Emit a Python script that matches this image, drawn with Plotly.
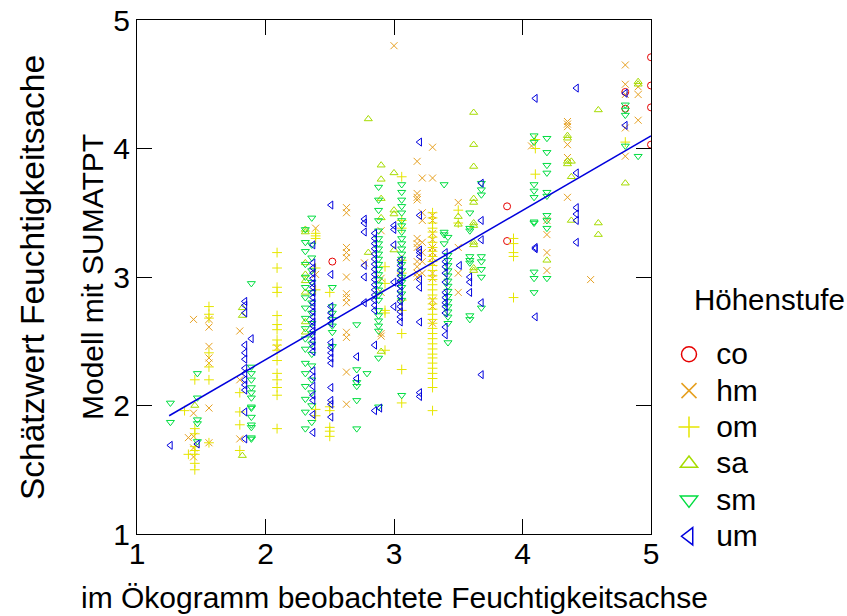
import plotly.graph_objects as go

# ---------------- data (observed x -> list of estimated y) ----------------
co_pts = {2.52: [3.12], 3.88: [3.55, 3.28], 4.80: [4.44, 4.31],
          5.00: [4.71, 4.49, 4.32, 4.03]}

hm_pts = {1.40: [1.75], 1.44: [2.67, 1.94, 1.76, 1.67, 1.60],
          1.56: [2.67, 2.61, 2.46, 2.37, 2.33, 1.98, 1.71],
          1.80: [2.58, 2.20, 1.74], 2.09: [2.45], 2.39: [3.38, 3.02],
          2.63: [3.54, 3.50, 3.23, 3.19, 3.15, 3.00, 2.87, 2.84, 2.80, 2.57, 2.53, 2.26, 2.01],
          2.77: [3.11], 2.90: [3.36, 2.99, 2.88, 2.56, 2.54], 3.00: [4.80],
          3.18: [3.90, 3.65, 3.62, 3.60, 3.30, 3.26, 3.23, 3.12, 3.08, 3.03, 3.00],
          3.22: [3.77, 3.50, 3.44, 3.27, 3.19, 3.12, 3.03],
          3.30: [4.01, 3.77, 3.48, 3.44, 3.34, 3.29, 3.23, 3.19, 3.15, 3.11, 3.03, 2.99, 2.82, 2.77, 2.64],
          3.50: [3.58, 3.23, 3.03, 2.88], 4.07: [4.02],
          4.19: [3.44, 3.33, 3.19, 3.05],
          4.35: [4.21, 4.19, 4.17, 4.03, 3.93, 3.62], 4.53: [2.98],
          4.80: [4.65, 4.50, 4.42, 4.16, 3.94], 4.90: [4.48, 4.42, 4.22]}

om_pts = {1.37: [1.96], 1.40: [1.62],
          1.45: [2.20, 1.82, 1.78, 1.68, 1.65, 1.62, 1.55, 1.50],
          1.56: [2.77, 2.71, 2.68, 2.41, 2.30, 2.20, 1.71],
          1.80: [2.10, 1.95, 1.85, 1.65],
          2.09: [3.19, 3.07, 2.92, 2.88, 2.70, 2.63, 2.59, 2.51, 2.47, 2.43, 2.35, 2.25, 2.20, 2.14, 2.08, 1.82],
          2.39: [3.34, 3.32, 3.30, 3.07, 2.90, 1.97, 1.92],
          2.50: [2.88, 1.99, 1.96, 1.83, 1.80, 1.76],
          2.93: [3.08, 2.95, 2.74, 2.72, 2.43],
          3.06: [3.78, 3.44, 3.38, 3.13, 3.03, 2.82, 2.74, 2.56, 2.28, 2.02],
          3.30: [3.50, 3.46, 3.42, 3.38, 3.35, 3.31, 3.27, 3.23, 3.20, 3.16, 3.12, 3.09,
                 3.05, 3.01, 2.98, 2.94, 2.90, 2.86, 2.83, 2.79, 2.75, 2.71, 2.67, 2.64,
                 2.60, 2.56, 2.52, 2.48, 2.44, 2.40, 2.37, 2.33, 2.29, 2.25, 2.21, 2.14, 1.96],
          3.50: [3.52, 3.42], 3.93: [3.30, 3.26, 3.19, 3.16, 2.84],
          4.10: [4.07, 4.00, 3.80], 4.80: [4.05]}

sa_pts = {1.45: [2.00], 1.82: [2.76, 2.70, 1.61],
          2.31: [3.37, 3.35, 3.11, 3.02, 2.97, 2.88, 2.65, 2.57],
          2.80: [4.23, 3.19], 2.90: [3.87, 3.76, 3.61, 3.46, 2.42],
          3.00: [3.81, 3.52, 3.49, 3.21], 3.50: [3.47, 3.41],
          3.62: [4.28, 4.03, 3.86, 3.61, 3.58, 3.42, 3.40, 3.27, 3.25, 3.07, 3.05],
          4.19: [3.13], 4.35: [4.10, 4.08, 3.90, 3.88], 4.38: [3.90, 3.78, 3.44],
          4.59: [4.30, 3.42, 3.33], 4.80: [3.73], 4.90: [4.52, 4.50]}

sm_pts = {1.26: [2.02, 1.87], 1.47: [2.25, 2.06, 1.89, 1.86, 1.72],
          1.89: [2.95, 2.30, 2.25, 2.20, 2.14, 2.10, 2.06, 1.99, 1.98, 1.91, 1.85, 1.83, 1.75, 1.74],
          2.31: [3.37, 3.27, 3.20, 3.10, 3.00, 2.92, 2.84, 2.76, 2.68, 2.60, 2.52, 2.44,
                 2.33, 2.25, 2.15, 2.05, 1.95, 1.82],
          2.36: [3.46, 3.25, 3.15, 3.05, 2.96, 2.88, 2.80, 2.72, 2.64, 2.56, 2.48, 2.40,
                 2.31, 2.20, 2.10, 2.00, 1.87],
          2.52: [2.92, 2.77, 2.72, 2.67, 2.62, 2.57, 2.46],
          2.71: [2.63, 2.28, 2.18, 2.15, 2.04, 1.82], 2.79: [2.25],
          2.88: [3.70, 3.60, 3.52, 3.44, 3.36, 3.30, 3.26, 3.22, 3.18, 3.14, 3.10, 3.06,
                 3.02, 2.98, 2.94, 2.90, 2.86, 2.82, 2.74, 2.70, 2.66, 2.62, 2.58, 2.37, 1.99],
          3.06: [3.72, 3.66, 3.60, 3.55, 3.50, 3.44, 3.40, 3.35, 3.30, 3.26, 3.22, 3.18,
                 3.14, 3.10, 3.05, 3.00, 2.96, 2.92, 2.87, 2.82, 2.08],
          3.39: [3.72, 3.35, 3.33, 3.26],
          3.42: [3.31, 3.17, 3.13, 3.09, 3.05, 3.01, 2.97, 2.93, 2.89, 2.85, 2.81, 2.77,
                 2.73, 2.69, 2.64, 2.49],
          3.59: [3.50, 3.38, 3.36, 3.16, 3.13, 3.11, 2.70, 2.67],
          3.68: [3.73, 3.68, 3.64, 3.16, 3.12, 3.06, 3.00, 2.76],
          4.09: [4.10, 4.05, 3.72, 3.67, 3.62, 3.43, 3.42, 3.04, 2.99, 2.88],
          4.19: [4.08, 3.97, 3.87, 3.81, 3.66, 3.63, 3.48, 3.44, 3.38, 2.99],
          4.80: [4.34, 4.30, 4.26, 4.02], 4.90: [3.94]}

um_pts = {1.26: [1.69], 1.47: [1.70],
          1.84: [2.81, 2.78, 2.72, 2.47, 2.41, 2.36, 2.29, 2.25, 2.20, 2.16, 2.12, 1.95, 1.74],
          1.89: [2.52],
          2.37: [3.25, 3.11, 3.07, 3.03, 2.99, 2.95, 2.92, 2.88, 2.84, 2.80, 2.77, 2.73,
                 2.69, 2.65, 2.62, 2.58, 2.54, 2.50, 2.46, 2.42, 2.27, 2.22, 2.15, 2.08,
                 2.04, 1.93, 1.79],
          2.51: [3.56, 3.02, 2.77, 2.72, 2.68, 2.64, 2.49, 2.45, 2.41, 2.37, 2.33, 2.14,
                 2.04, 2.01, 1.91],
          2.71: [2.38, 2.21], 2.77: [3.45, 3.42, 3.35, 3.09, 3.00, 2.80],
          2.85: [3.34, 3.30, 3.26, 3.22, 3.18, 3.14, 3.10, 3.06, 3.02, 2.98, 2.94, 2.90,
                 2.86, 2.82, 2.78, 2.74, 2.47, 1.96],
          2.89: [1.98],
          3.00: [3.40, 3.37, 3.25, 2.96, 2.77],
          3.05: [3.13, 3.09, 3.05, 3.01, 2.97, 2.93, 2.89, 2.85, 2.81, 2.77, 2.73, 2.69, 2.65],
          3.20: [4.05, 3.48, 3.21, 3.16, 3.19, 2.98, 2.92, 2.65, 2.10, 2.07],
          3.40: [3.19, 3.12, 3.08, 3.03, 2.96, 2.88, 2.84, 2.80, 2.77, 2.72, 2.61, 2.55],
          3.51: [3.09], 3.59: [3.00, 2.96, 2.88],
          3.68: [3.73, 3.44, 3.29, 2.80, 2.24],
          4.10: [4.39, 3.23, 3.22, 2.69],
          4.42: [4.47, 3.81, 3.54, 3.49, 3.44, 3.27], 4.80: [4.43, 4.18]}

# linear fit shown in the chart
fit_intercept = 1.194
fit_slope = 0.581
fit_x = [1.25, 5.0]

series = [
    ("co", co_pts, "circle-open", "#E60000"),
    ("hm", hm_pts, "x-thin-open", "#E6A020"),
    ("om", om_pts, "cross-thin-open", "#E6E600"),
    ("sa", sa_pts, "triangle-up-open", "#A6DC00"),
    ("sm", sm_pts, "triangle-down-open", "#00DD40"),
    ("um", um_pts, "triangle-left-open", "#0000DD"),
]

FONT = "Liberation Sans, Arial, sans-serif"
fig = go.Figure()

for name, pts, sym, col in series:
    xs, ys = [], []
    for xv, yl in pts.items():
        for yv in yl:
            xs.append(xv)
            ys.append(yv)
    fig.add_trace(go.Scatter(
        x=xs, y=ys, mode="markers", name=name, showlegend=False,
        marker=dict(symbol=sym, size=7, color=col, line=dict(color=col, width=1)),
    ))

fig.add_trace(go.Scatter(
    x=fit_x, y=[fit_intercept + fit_slope * v for v in fit_x],
    mode="lines", line=dict(color="#0000DD", width=1.5), showlegend=False,
))

for name, pts, sym, col in series:
    fig.add_trace(go.Scatter(
        x=[None], y=[None], mode="markers",
        name=" <span style='font-size:30px'>" + name + "</span>",
        marker=dict(symbol=sym, size=15, color=col, line=dict(color=col, width=1.5)),
    ))

axis_common = dict(
    range=[1, 5], tickvals=[1, 2, 3, 4, 5], ticks="inside", ticklen=15,
    tickcolor="black", tickwidth=1, showline=True, linecolor="black",
    linewidth=1, mirror="ticks", showgrid=False, zeroline=False,
    ticklabeloverflow="allow", automargin=False,
    tickfont=dict(family=FONT, size=30, color="black"),
)

fig.update_layout(
    width=847, height=616,
    margin=dict(l=137, r=196, t=20, b=82),
    paper_bgcolor="white", plot_bgcolor="white",
    font=dict(family=FONT, color="black"),
    xaxis=dict(**axis_common, ticklabelstandoff=-7),
    yaxis=dict(**axis_common),
    legend=dict(
        x=1.035, xanchor="left", y=0.3949, yanchor="top",
        font=dict(family=FONT, size=25.7, color="black"),
        bgcolor="rgba(0,0,0,0)", tracegroupgap=0, itemwidth=30,
    ),
    annotations=[
        dict(text="Schätzwert Feuchtigkeitsache", textangle=-90, xref="paper", yref="paper",
             x=-0.2043, y=0.5, xanchor="center", yanchor="middle", showarrow=False,
             font=dict(family=FONT, size=33.5, color="black")),
        dict(text="Modell mit SUMATPT", textangle=-90, xref="paper", yref="paper",
             x=-0.0875, y=0.5, xanchor="center", yanchor="middle", showarrow=False,
             font=dict(family=FONT, size=30, color="black")),
        dict(text="im Ökogramm beobachtete Feuchtigkeitsachse", xref="paper", yref="paper",
             x=0.5, y=-0.1245, xanchor="center", yanchor="middle", showarrow=False,
             font=dict(family=FONT, size=30, color="black")),
        dict(text="Höhenstufe", xref="paper", yref="paper",
             x=1.2296, y=0.4553, xanchor="center", yanchor="middle", showarrow=False,
             font=dict(family=FONT, size=29.5, color="black")),
    ],
)

fig.write_html(
    "out.html",
    config={"displayModeBar": False},
    post_script="document.body.style.margin='0';document.body.style.overflow='hidden';",
)
